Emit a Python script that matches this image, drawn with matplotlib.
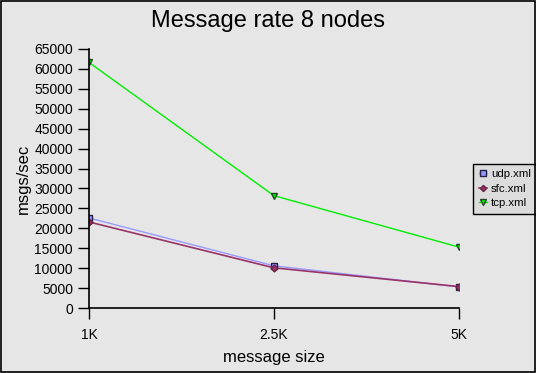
import matplotlib.pyplot as plt
from matplotlib.patches import Rectangle

sizes = ["1K", "2.5K", "5K"]
udp = [22600, 10600, 5300]
sfc = [21600, 10100, 5400]
tcp = [61600, 28200, 15300]

plt.rcParams['font.family'] = ['Liberation Sans', 'DejaVu Sans']
bg = '#e6e6e6'

fig = plt.figure(figsize=(5.36, 3.73), dpi=100, facecolor=bg)
ax = fig.add_axes([0.166, 0.174, 0.690, 0.695], facecolor=bg)
x = list(range(len(sizes)))

ax.plot(x, udp, color='#9999ff', lw=1, marker='s', ms=5, mfc='#9999ff', mec='#222244', label='udp.xml')
ax.plot(x, sfc, color='#993366', lw=1.2, marker='D', ms=3.5, mfc='#993366', mec='#662244', label='sfc.xml')
ax.plot(x, tcp, color='#00ee00', lw=1, marker='v', ms=5, mfc='#00ee00', mec='#224422', label='tcp.xml')

ax.set_xlim(0, 2)
ax.set_ylim(0, 65000)
ax.set_xticks(x)
ax.set_xticklabels(sizes)
ax.set_yticks(range(0, 65001, 5000))
ax.tick_params(axis='both', direction='out', length=8, width=1, labelsize=10)
ax.tick_params(axis='x', pad=6)
for s in ['top', 'right']:
    ax.spines[s].set_visible(False)
for s in ['left', 'bottom']:
    ax.spines[s].set_linewidth(1.2)

ax.set_xlabel('message size', fontsize=12, labelpad=6)
ax.set_ylabel('msgs/sec', fontsize=12, labelpad=2)
fig.text(0.5, 0.945, 'Message rate 8 nodes', ha='center', va='center', fontsize=17)

leg = ax.legend(loc='center left', bbox_to_anchor=(1.038, 0.46), fontsize=8.2,
                frameon=True, fancybox=False, borderpad=0.5, borderaxespad=0,
                handlelength=0.7, handletextpad=0.4, labelspacing=0.4, markerscale=0.9)
leg.get_frame().set_edgecolor('black')
leg.get_frame().set_facecolor('#dcdcdc')
leg.get_frame().set_alpha(1)

fig.patches.append(Rectangle((0.001, 0.002), 0.997, 0.995, transform=fig.transFigure,
                             fill=False, edgecolor='black', lw=1.2))

fig.savefig('out.png', dpi=100, facecolor=bg)
